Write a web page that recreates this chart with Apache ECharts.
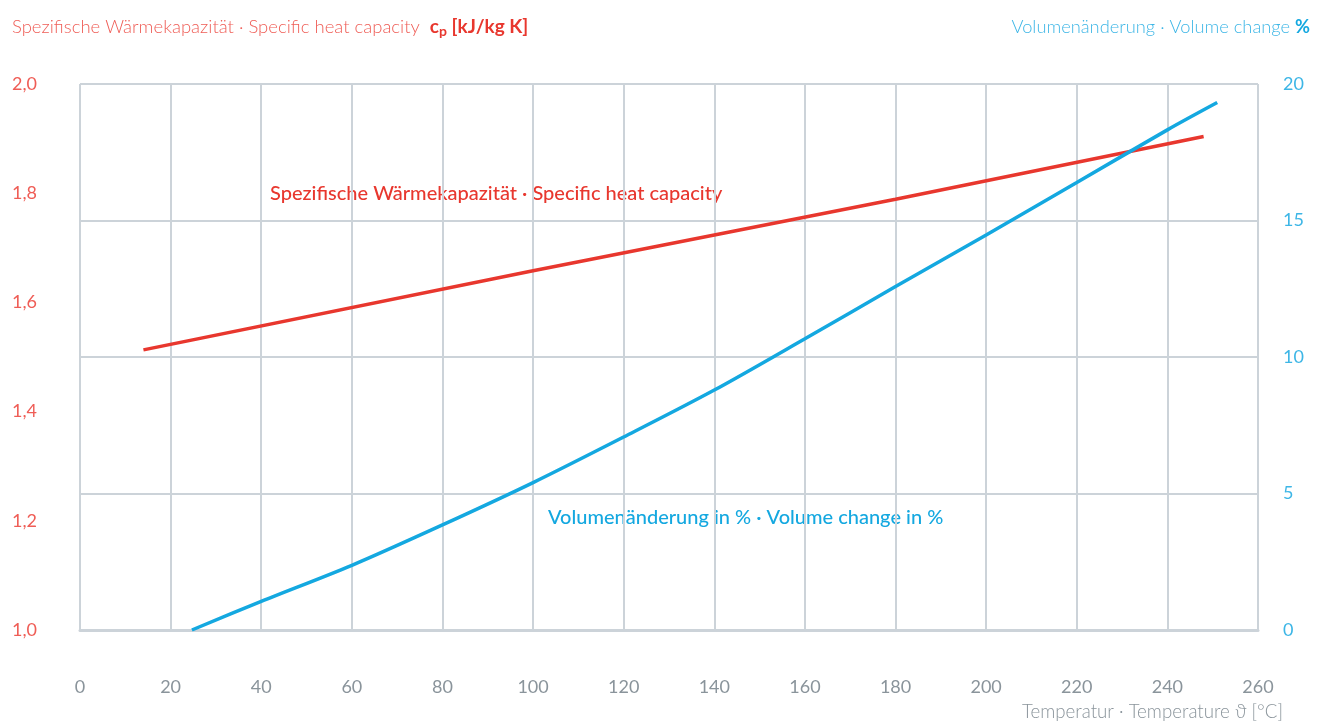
<!DOCTYPE html>
<html>
<head>
<meta charset="utf-8">
<script src="https://cdn.jsdelivr.net/npm/echarts@6/dist/echarts.min.js"></script>
<style>
html,body{margin:0;padding:0;background:#fff;}
#chart{width:1325px;height:722px;}
</style>
</head>
<body>
<div id="chart"></div>
<script>
// Data
var xTicks = [0, 260, 20];          // min, max, interval (°C)
var leftTicks = [1.0, 2.0, 0.2];    // cp axis
var rightTicks = [0, 20, 5];        // volume change axis
var heatCapTemp = [14, 100, 180, 248];
var heatCapValue = [1.513, 1.658, 1.789, 1.904];
var volTemp = [24.7, 40, 60, 80, 100, 120, 140, 160, 180, 200, 220, 240, 251];
var volValue = [0, 1.05, 2.37, 3.85, 5.4, 7.07, 8.79, 10.67, 12.58, 14.47, 16.39, 18.32, 19.32];

var RED = '#e8372e', RED_LIGHT = '#ef5d56', BLUE = '#14a8e0', BLUE_LIGHT = '#3db6e6';
var GRID = '#ccd3d9', GRAY = '#8a949b';
var FONT = 'Lato, "Open Sans", sans-serif';

function pairs(xs, ys){ return xs.map(function(x,i){ return [x, ys[i]]; }); }

var chart = echarts.init(document.getElementById('chart'));
chart.setOption({
  backgroundColor: '#fff',
  animation: false,
  textStyle: { fontFamily: FONT },
  grid: { left: 80, right: 67, top: 84, bottom: 92, containLabel: false },
  title: [{
    left: 12, top: 16, padding: 0,
    text: '{a|Spezifische Wärmekapazität · Specific heat capacity  }{b|c}{s|p}{b| [kJ/kg K]}',
    textStyle: {
      rich: {
        a: { fontFamily: FONT, fontSize: 18.5, color: RED_LIGHT, fontWeight: 300 },
        b: { fontFamily: FONT, fontSize: 19, color: RED, fontWeight: 'bold' },
        s: { fontFamily: FONT, fontSize: 14, color: RED, fontWeight: 'bold', padding: [8, 0, 0, 0] }
      }
    }
  }, {
    right: 15, top: 18, padding: 0,
    text: '{a|Volumenänderung · Volume change }{b|%}',
    textStyle: {
      rich: {
        a: { fontFamily: FONT, fontSize: 18.3, color: BLUE_LIGHT, fontWeight: 300 },
        b: { fontFamily: FONT, fontSize: 18.3, color: BLUE, fontWeight: 'bold' }
      }
    }
  }],
  xAxis: {
    type: 'value', min: xTicks[0], max: xTicks[1], interval: xTicks[2],
    axisLine: { show: true, onZero: false, lineStyle: { color: GRID, width: 3 } },
    axisTick: { show: false },
    axisLabel: { color: GRAY, fontSize: 18, margin: 48, fontFamily: FONT },
    splitLine: { show: true, lineStyle: { color: GRID, width: 2 } }
  },
  yAxis: [{
    type: 'value', min: leftTicks[0], max: leftTicks[1], interval: leftTicks[2],
    position: 'left',
    axisLine: { show: false }, axisTick: { show: false },
    splitLine: { show: false },
    axisLabel: {
      color: RED_LIGHT, fontSize: 18, margin: 68, align: 'left', fontFamily: FONT,
      formatter: function(v){ return v.toFixed(1).replace('.', ','); }
    }
  }, {
    type: 'value', min: rightTicks[0], max: rightTicks[1], interval: rightTicks[2],
    position: 'right',
    axisLine: { show: false }, axisTick: { show: false },
    splitLine: { show: true, lineStyle: { color: GRID, width: 2 } },
    axisLabel: { color: BLUE_LIGHT, fontSize: 18, margin: 25, align: 'left', fontFamily: FONT }
  }],
  graphic: [{
    type: 'text', left: 270, top: 184,
    style: { text: 'Spezifische Wärmekapazität · Specific heat capacity', fill: RED,
             font: '500 20px ' + FONT }
  }, {
    type: 'text', left: 548, top: 508,
    style: { text: 'Volumenänderung in % · Volume change in %', fill: BLUE,
             font: '500 20px ' + FONT }
  }, {
    type: 'text', right: 42, top: 702,
    style: { text: 'Temperatur · Temperature ϑ [°C]', fill: GRAY,
             font: '300 18.7px ' + FONT }
  }],
  series: [{
    name: 'cp', type: 'line', yAxisIndex: 0,
    data: pairs(heatCapTemp, heatCapValue),
    showSymbol: false, lineStyle: { color: RED, width: 3.5 }, z: 3
  }, {
    name: 'volume', type: 'line', yAxisIndex: 1,
    data: pairs(volTemp, volValue), smooth: 0.3,
    showSymbol: false, lineStyle: { color: BLUE, width: 3.5 }, z: 4
  }]
});
</script>
</body>
</html>
